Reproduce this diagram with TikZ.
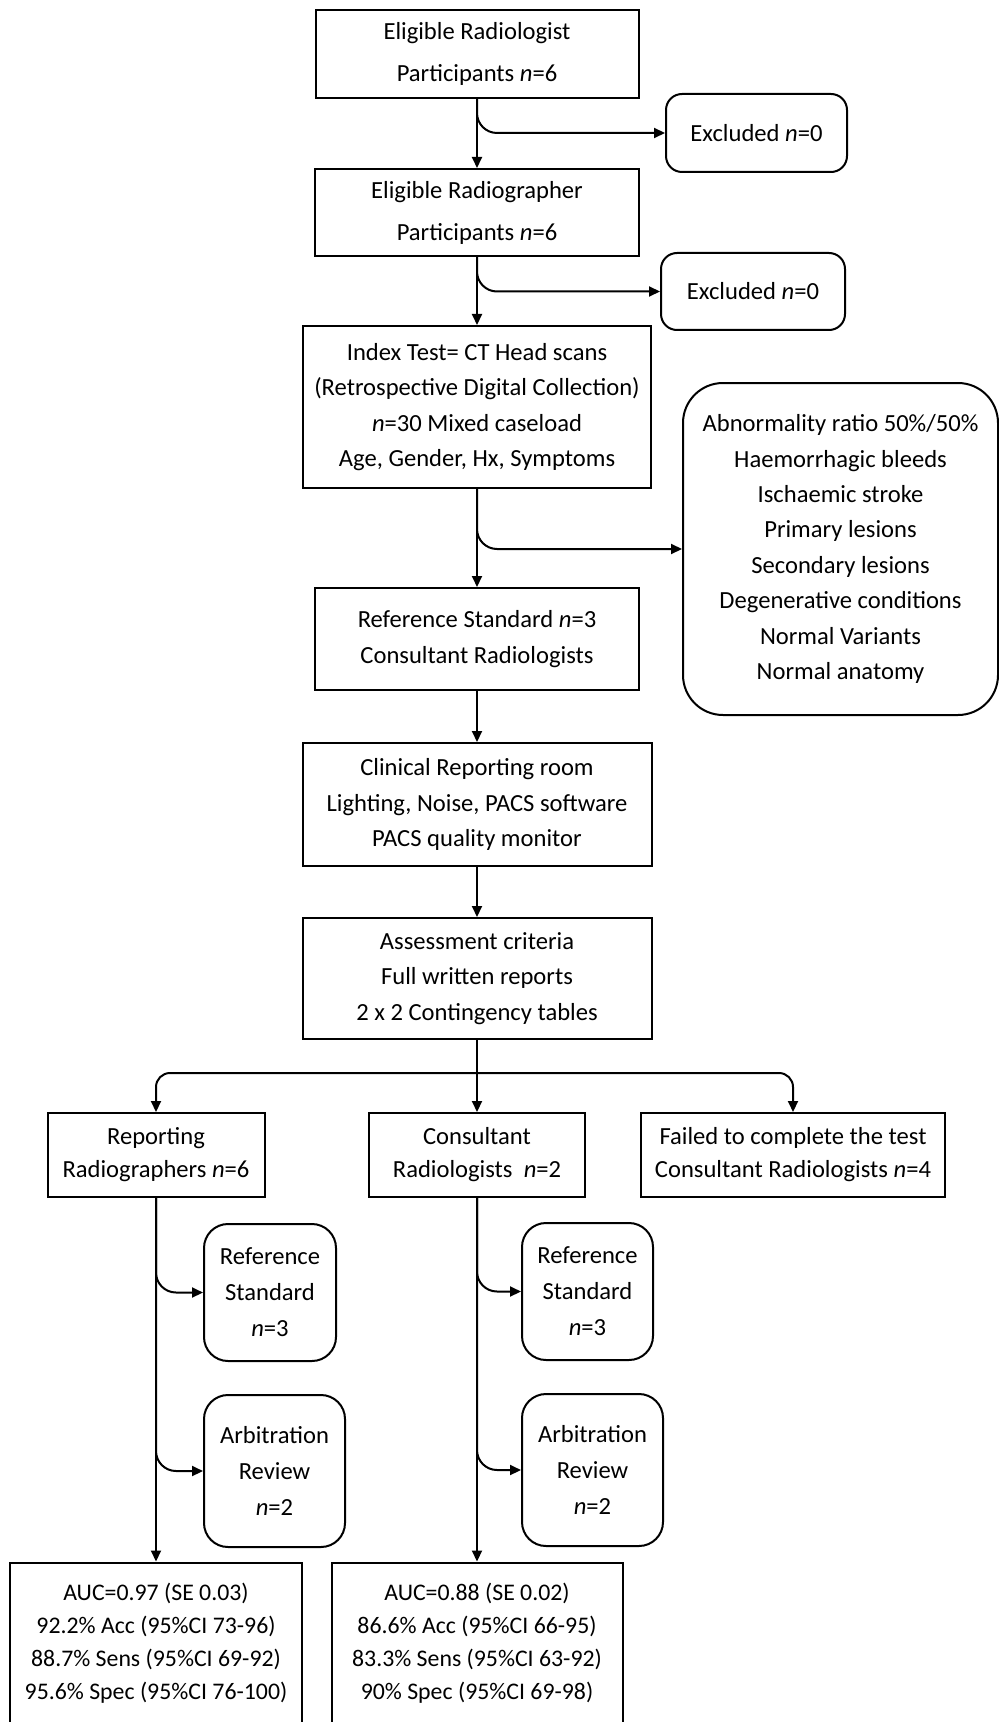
\documentclass[tikz,border=0pt]{standalone}
\usepackage{fontspec}
\setmainfont{Carlito}
\usetikzlibrary{arrows.meta}
\begin{document}
\begin{tikzpicture}[x=0.5pt,y=-0.5pt,
  box/.style={draw, line width=1pt, inner sep=0pt, align=center,
    font=\fontsize{12.3}{17.7}\selectfont},
  boxwide/.style={box, font=\fontsize{12.3}{21}\selectfont},
  rbox/.style={box, rounded corners=8pt},
  sbox/.style={box, rounded corners=12pt, font=\fontsize{12.3}{18}\selectfont},
  resbox/.style={box, font=\fontsize{11.9}{16.4}\selectfont},
  arr/.style={line width=1pt, -{Triangle[length=5.5pt,width=5pt]}},
  brarr/.style={arr, rounded corners=10pt}]
\useasboundingbox (0,0) rectangle (999,1722);

\node[boxwide, minimum width=161.5pt, minimum height=44pt] (b1) at (477,54)
  {Eligible Radiologist\\Participants \textit{n}=6};
\node[rbox, minimum width=90.5pt, minimum height=39pt] (ex1) at (756.5,133)
  {Excluded \textit{n}=0};
\node[boxwide, minimum width=162pt, minimum height=43.5pt] (b2) at (477,212.5)
  {Eligible Radiographer\\Participants \textit{n}=6};
\node[rbox, minimum width=92pt, minimum height=38.5pt] (ex2) at (753,291.5)
  {Excluded \textit{n}=0};
\node[box, minimum width=174pt, minimum height=81pt] (b3) at (477,407)
  {Index Test= CT Head scans\\(Retrospective Digital Collection)\\\textit{n}=30 Mixed caseload\\Age, Gender, Hx, Symptoms};
\node[box, rounded corners=20pt, minimum width=157.5pt, minimum height=166pt] (big) at (840.5,549)
  {Abnormality ratio 50\%/50\%\\Haemorrhagic bleeds\\Ischaemic stroke\\Primary lesions\\Secondary lesions\\Degenerative conditions\\Normal Variants\\Normal anatomy};
\node[box, minimum width=162pt, minimum height=51pt] (b4) at (477,639)
  {Reference Standard \textit{n}=3\\Consultant Radiologists};
\node[box, minimum width=174.5pt, minimum height=61.5pt] (b5) at (477,804.5)
  {Clinical Reporting room\\Lighting, Noise, PACS software\\PACS quality monitor};
\node[box, minimum width=174.5pt, minimum height=60.5pt] (b6) at (477,978.5)
  {Assessment criteria\\Full written reports\\2 x 2 Contingency tables};
\coordinate (split) at (477,1073);
\node[box, font=\fontsize{12.3}{16.5}\selectfont, minimum width=108.5pt, minimum height=42pt] (rep) at (156,1155)
  {Reporting\\Radiographers \textit{n}=6};
\node[box, font=\fontsize{12.3}{16.5}\selectfont, minimum width=108pt, minimum height=42pt] (con) at (477,1155)
  {Consultant\\Radiologists\ \ \textit{n}=2};
\node[box, font=\fontsize{12.3}{16.5}\selectfont, minimum width=152pt, minimum height=42pt] (fail) at (793,1155)
  {Failed to complete the test\\Consultant Radiologists \textit{n}=4};
\node[sbox, minimum width=66pt, minimum height=68.5pt] (rs1) at (270,1292.5)
  {Reference\\Standard\\\textit{n}=3};
\node[sbox, minimum width=70.5pt, minimum height=76pt] (ar1) at (274.5,1471)
  {Arbitration\\Review\\\textit{n}=2};
\node[sbox, minimum width=65.5pt, minimum height=68.5pt] (rs2) at (587.5,1291.5)
  {Reference\\Standard\\\textit{n}=3};
\node[sbox, minimum width=70.5pt, minimum height=76pt] (ar2) at (592.5,1470)
  {Arbitration\\Review\\\textit{n}=2};
\node[resbox, minimum width=146pt, minimum height=80.5pt] (res1) at (156,1643)
  {AUC=0.97 (SE 0.03)\\92.2\% Acc (95\%CI 73-96)\\88.7\% Sens (95\%CI 69-92)\\95.6\% Spec (95\%CI 76-100)};
\node[resbox, minimum width=145.5pt, minimum height=80.5pt] (res2) at (477,1643)
  {AUC=0.88 (SE 0.02)\\86.6\% Acc (95\%CI 66-95)\\83.3\% Sens (95\%CI 63-92)\\90\% Spec (95\%CI 69-98)};

\draw[arr] (b1) -- (b2);
\draw[brarr] (b1.south) |- (ex1.west);
\draw[arr] (b2) -- (b3);
\draw[brarr] (b2.south) |- (ex2.west);
\draw[arr] (b3) -- (b4);
\draw[brarr] (b3.south) |- (big.west);
\draw[arr] (b4) -- (b5);
\draw[arr] (b5) -- (b6);
\draw[line width=1pt] (b6.south) -- (split);
\draw[arr] (split) -- (con.north);
\draw[arr, rounded corners=7pt] (split) -| (rep.north);
\draw[arr, rounded corners=7pt] (split) -| (fail.north);
\draw[arr] (rep) -- (res1);
\draw[brarr] (rep.south) |- (rs1.west);
\draw[brarr] (rep.south) |- (ar1.west);
\draw[arr] (con) -- (res2);
\draw[brarr] (con.south) |- (rs2.west);
\draw[brarr] (con.south) |- (ar2.west);
\end{tikzpicture}
\end{document}
